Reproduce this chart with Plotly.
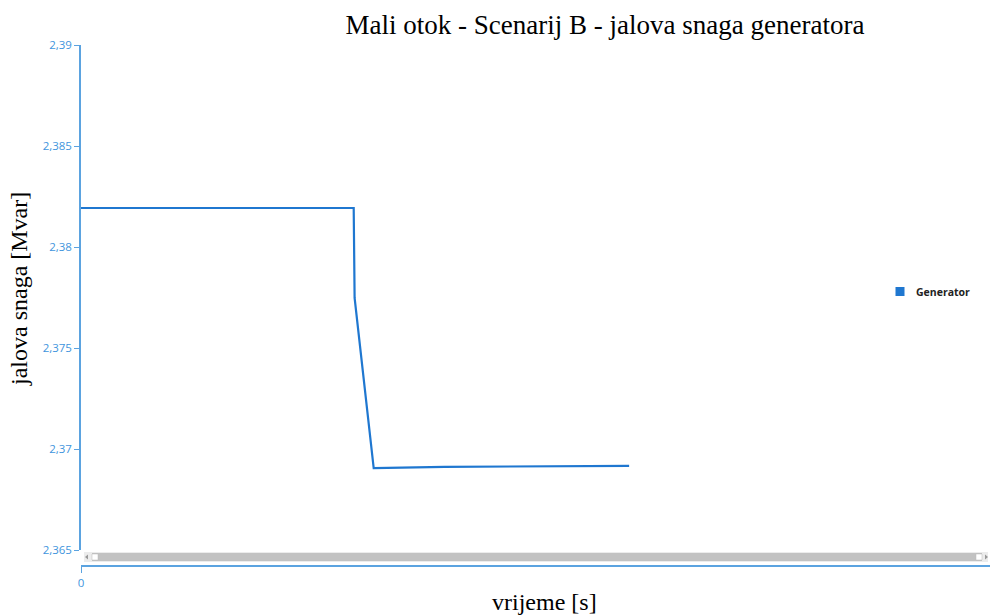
import plotly.graph_objects as go

# ---- data ----
time_s = [0, 30, 30.1, 32.2, 40, 50, 60.3]
q_mvar = [2.38193, 2.38193, 2.37748, 2.36905, 2.36912, 2.36915, 2.36916]
series_name = "Generator"
y_tickvals = [2.365, 2.37, 2.375, 2.38, 2.385, 2.39]
y_ticktext = ["2,365", "2,37", "2,375", "2,38", "2,385", "2,39"]
x_tickvals = [0]
x_ticktext = ["0"]

W, H = 990, 616
L, R, T, B = 81, 0, 45, 50
PW, PH = W - L - R, H - T - B

def px(x):
    return (x - L) / PW

def py(y):
    return (H - B - y) / PH

axis_col = "#5ba3e0"
tick_col = "#3f95dd"
line_col = "#1f77d0"

fig = go.Figure()
fig.add_trace(go.Scatter(x=time_s, y=q_mvar, mode="lines", name=series_name,
                         line=dict(color=line_col, width=2.2),
                         showlegend=False, hoverinfo="x+y"))

ybot_frac = py(550)
fig.update_layout(
    width=W, height=H,
    margin=dict(l=L, r=R, t=T, b=B),
    paper_bgcolor="white", plot_bgcolor="white",
    font=dict(family="Open Sans", size=11, color=tick_col),
    title=dict(text="Mali otok - Scenarij B - jalova snaga generatora",
               x=605 / W, xanchor="center", y=1 - 25 / H, yanchor="middle",
               font=dict(family="Liberation Serif", size=27, color="black")),
    xaxis=dict(range=[0, 100], tickvals=x_tickvals, ticktext=x_ticktext,
               showgrid=False, zeroline=False, showline=True, linecolor=axis_col,
               linewidth=1.5, ticks="outside", ticklen=6, tickcolor=axis_col,
               anchor="free", position=0,
               tickfont=dict(family="Open Sans", size=11.5, color=tick_col)),
    yaxis=dict(range=[2.365, 2.39], domain=[ybot_frac, 1],
               tickvals=y_tickvals, ticktext=y_ticktext,
               showgrid=False, zeroline=False, showline=True, linecolor=axis_col,
               linewidth=1.5, ticks="outside", ticklen=5, tickcolor=axis_col,
               tickfont=dict(family="Open Sans", size=11.5, color=tick_col)),
    showlegend=False,
)

fig.add_annotation(text="jalova snaga [Mvar]", textangle=-90, showarrow=False,
                   xref="paper", yref="paper", x=px(19), y=py(289),
                   xanchor="center", yanchor="middle",
                   font=dict(family="Liberation Serif", size=24, color="black"))
fig.add_annotation(text="vrijeme [s]", showarrow=False,
                   xref="paper", yref="paper", x=px(544), y=py(602),
                   xanchor="center", yanchor="middle",
                   font=dict(family="Liberation Serif", size=24, color="black"))

# legend (manual, square symbol)
fig.add_annotation(text="<b>" + series_name + "</b>", showarrow=False,
                   xref="paper", yref="paper", x=px(914), y=py(292),
                   xanchor="left", yanchor="middle",
                   font=dict(family="Open Sans", size=10.5, color="#222222"))

shapes = [
    dict(type="rect", xref="paper", yref="paper", x0=px(895.5), x1=px(904.5), y0=py(296), y1=py(287),
         fillcolor=line_col, line=dict(width=0), layer="above"),
    # scrollbar
    dict(type="rect", xref="paper", yref="paper", x0=px(84), x1=px(988), y0=py(562), y1=py(552),
         fillcolor="#ececec", line=dict(width=0), layer="above"),
    dict(type="rect", xref="paper", yref="paper", x0=px(92), x1=px(982), y0=py(561), y1=py(553),
         fillcolor="#c2c2c2", line=dict(width=0), layer="above"),
    dict(type="rect", xref="paper", yref="paper", x0=px(92), x1=px(98), y0=py(560), y1=py(554),
         fillcolor="white", line=dict(color="#bbbbbb", width=0.5), layer="above"),
    dict(type="rect", xref="paper", yref="paper", x0=px(976), x1=px(982), y0=py(560), y1=py(554),
         fillcolor="white", line=dict(color="#bbbbbb", width=0.5), layer="above"),
    dict(type="path", xref="paper", yref="paper",
         path=f"M {px(85)} {py(557)} L {px(88)} {py(554.5)} L {px(88)} {py(559.5)} Z",
         fillcolor="#999999", line=dict(width=0), layer="above"),
    dict(type="path", xref="paper", yref="paper",
         path=f"M {px(988)} {py(557)} L {px(985)} {py(554.5)} L {px(985)} {py(559.5)} Z",
         fillcolor="#999999", line=dict(width=0), layer="above"),
]
fig.update_layout(shapes=shapes)

fig.write_html("out.html", config={"displayModeBar": False},
               post_script="document.body.style.margin='0';document.body.style.padding='0';")
